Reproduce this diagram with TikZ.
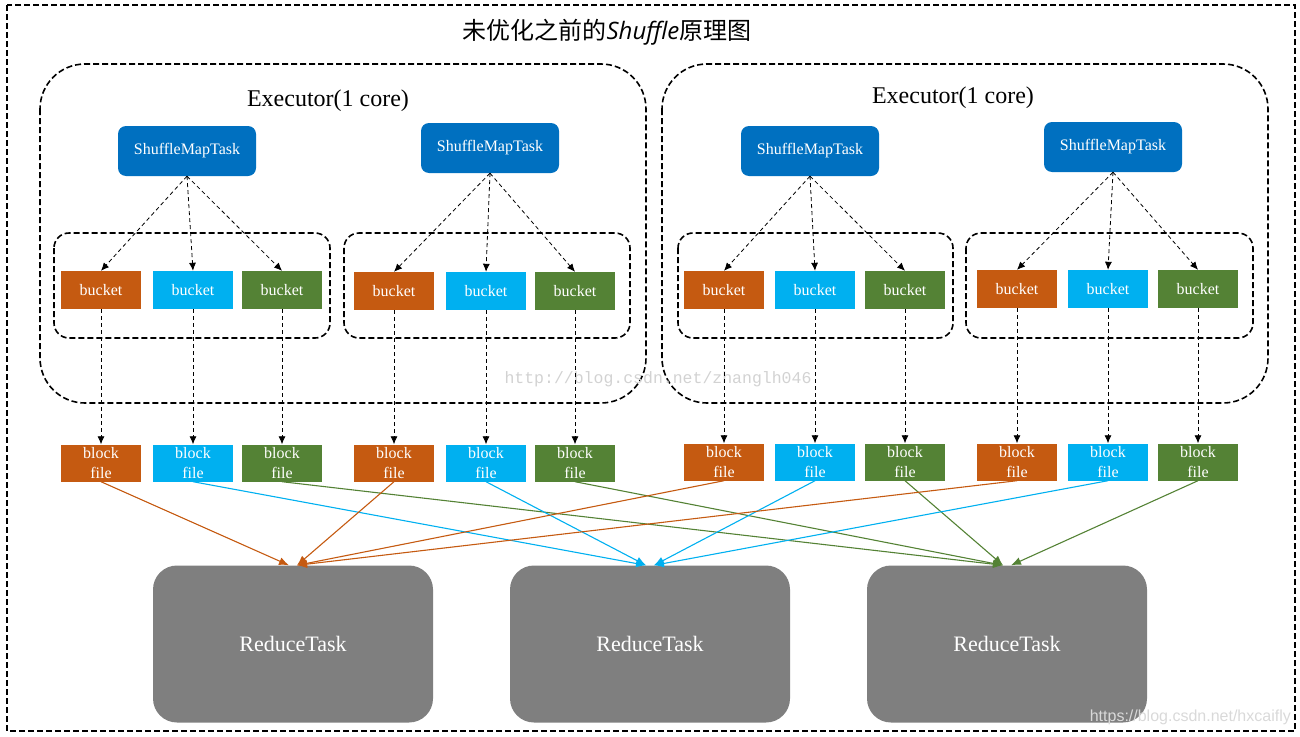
\documentclass[tikz,border=0pt]{standalone}
\usepackage{fontspec}
\setmainfont{Liberation Serif}
\setmonofont{Liberation Mono}
\newfontfamily\cjk{Noto Sans CJK SC}
\newfontfamily\shufflefont{Open Sans}
\newfontfamily\marksans{Liberation Sans}
\usetikzlibrary{arrows.meta}
\definecolor{tasko}{HTML}{C55A11}
\definecolor{taskb}{HTML}{00B0F0}
\definecolor{taskg}{HTML}{548235}
\definecolor{smtblue}{HTML}{0070C0}
\definecolor{reducegray}{HTML}{7F7F7F}

\begin{document}
\begin{tikzpicture}[x=1pt, y=-1pt,
					every node/.style={text=white, align=center, inner sep=0pt},
					smt/.style={rectangle, rounded corners=8pt, fill=smtblue, minimum width=138pt, minimum height=50pt, font=\fontsize{16}{19}\selectfont},
					bucketnode/.style={rectangle, minimum width=80pt, minimum height=38pt, font=\fontsize{16}{19}\selectfont},
					blocknode/.style={rectangle, minimum width=80pt, minimum height=37pt, font=\fontsize{16}{20}\selectfont},
					reduce/.style={rectangle, rounded corners=24pt, fill=reducegray, minimum width=280pt, minimum height=157pt, font=\fontsize{22}{26}\selectfont},
					execbox/.style={draw, line width=1.6pt, dash pattern=on 6pt off 3pt, rounded corners=45pt},
					groupbox/.style={draw, line width=1.6pt, dash pattern=on 6pt off 3pt, rounded corners=15pt},
					taskarrow/.style={-{Latex[length=8pt,width=7pt]}, dash pattern=on 4pt off 3pt, line width=0.8pt},
					shufflearrow/.style={-{Latex[length=10pt,width=8pt]}, line width=1.1pt}]
					\useasboundingbox (0,0) rectangle (1300,736);
					\draw[line width=1.6pt, dash pattern=on 6pt off 3pt] (7,5) rectangle (1295,731);
					\node[text=black, font=\cjk\fontsize{24}{28}\selectfont] (title) at (607,32) {未优化之前的{\shufflefont\itshape Shuffle}原理图};
					\draw[execbox] (40,64) rectangle (646,403);
					\draw[execbox] (662,64) rectangle (1268,403);
					\node[text=black, font=\fontsize{24}{28}\selectfont] (exec1) at (328,101) {Executor(1 core)};
					\node[text=black, font=\fontsize{24}{28}\selectfont] (exec2) at (953,98) {Executor(1 core)};
					\node[text=gray!35, font=\ttfamily\fontsize{16.5}{20}\selectfont] (mark1) at (658,379) {http://blog.csdn.net/zhanglh046};
					\foreach \g/\xo/\xb/\xg/\xs/\ys/\yb/\yf/\gl/\gr in {1/101/193/282/187/151/290/463/54/330, 2/394/486/575/490/148/291/463/344/630, 3/724/815/905/810/151/290/462/678/953, 4/1017/1108/1198/1113/147/289/462/966/1253} {
						\node[smt] (smt\g) at (\xs,\ys) {ShuffleMapTask};
						\draw[groupbox] (\gl,233) rectangle (\gr,338);
						\foreach \cl/\x in {o/\xo, b/\xb, g/\xg} {
							\node[bucketnode, fill=task\cl] (bucket\g\cl) at (\x,\yb) {bucket};
							\node[blocknode, fill=task\cl] (block\g\cl) at (\x,\yf) {block\\file};
							\draw[taskarrow] (smt\g.south) -- (bucket\g\cl.north);
							\draw[taskarrow] (bucket\g\cl.south) -- (block\g\cl.north);
						}
					}
					\foreach \r/\xr in {1/293, 2/650, 3/1007} {
						\node[reduce] (reduce\r) at (\xr,644) {ReduceTask};
						\coordinate (in\r-0) at ([xshift=-4pt]reduce\r.north);
						\coordinate (in\r-1) at ([xshift=4pt]reduce\r.north);
					}
					\foreach \g in {1,...,4}
						\foreach \cl/\r in {o/1, b/2, g/3} {
							\pgfmathtruncatemacro\sd{\g>\r}
							\draw[shufflearrow, color=task\cl] (block\g\cl.south) -- (in\r-\sd);
						}
					\node[text=gray!30, anchor=east, font=\marksans\fontsize{16}{19}\selectfont] (mark2) at (1291,717) {https://blog.csdn.net/hxcaifly};
				\end{tikzpicture}
\end{document}
